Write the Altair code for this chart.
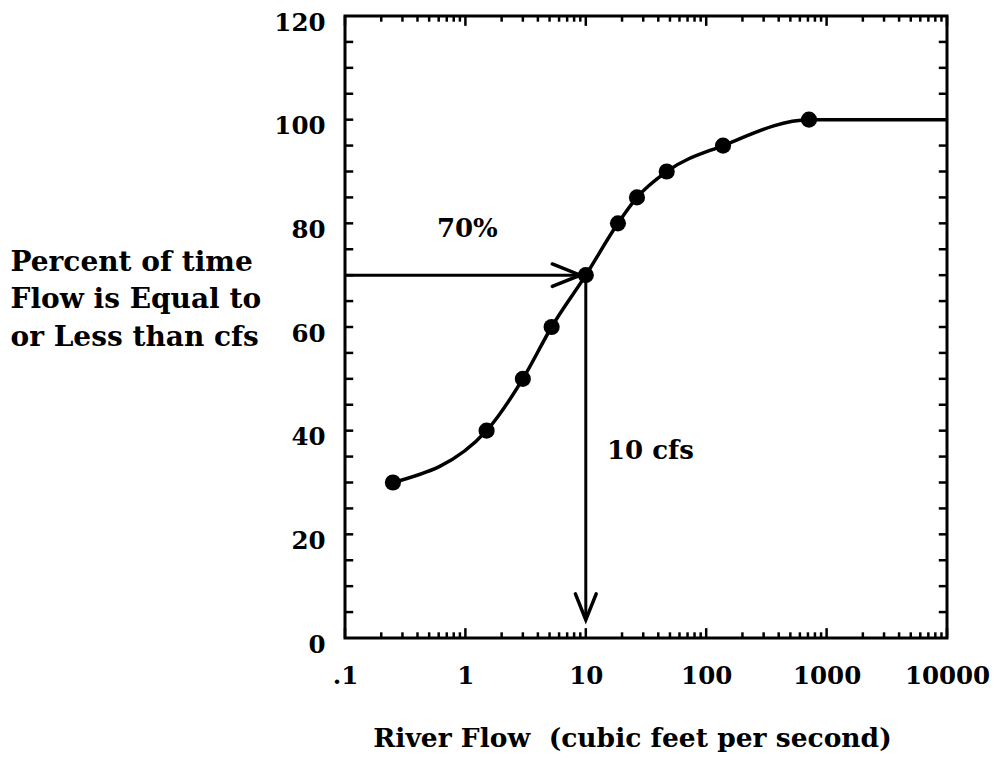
import altair as alt
import pandas as pd

# ---- data ----
flow = [0.25, 1.5, 3.0, 5.2, 10, 18.5, 26.6, 47, 138, 714]
pct = [30, 40, 50, 60, 70, 80, 85, 90, 95, 100]
curve_end_flow = 10000
curve_end_pct = 100

x_ticks = [0.1, 1, 10, 100, 1000, 10000]
x_tick_labels = [".1", "1", "10", "100", "1000", "10000"]
y_ticks = [0, 20, 40, 60, 80, 100, 120]
y_minor = list(range(5, 120, 5))
minor_mult = [2, 3, 4, 5, 6, 7, 8, 9]

arrow_h = {"x": 0.1, "x2": 10, "y": 70}
arrow_v = {"x": 10, "y": 70, "y2": 3.5}
head_h_tip = {"x": 9.0, "y": 70}
head_v_tip = {"x": 10, "y": 3.5}

ann_70 = {"x": 0.58, "y": 79, "text": "70%"}
ann_10 = {"x": 15, "y": 36, "text": "10 cfs"}

XMIN, XMAX, YMIN, YMAX = 0.1, 10000, 0, 120

xs = alt.Scale(type="log", domain=[XMIN, XMAX], nice=False)
ys = alt.Scale(domain=[YMIN, YMAX], nice=False, zero=False)

label_expr = " : ".join(
    f"datum.value == {v} ? '{l}'" for v, l in zip(x_ticks, x_tick_labels)
) + " : ''"

serif = "DejaVu Serif"

x_axis = alt.Axis(
    values=x_ticks, labelExpr=label_expr, ticks=False, tickSize=0, domain=False,
    grid=False, labelFont=serif, labelFontSize=24.5, labelFontWeight="bold",
    labelColor="black", labelPadding=38, labelBaseline="middle",
    labelOverlap=False, labelBound=False, labelFlush=False,
    title="River Flow \u00a0(cubic feet per second)",
    titleFont=serif, titleFontSize=26.5, titleFontWeight="bold", titleColor="black",
    titleX=287, titleY=108, titleAlign="center", titleBaseline="alphabetic",
)
y_axis = alt.Axis(
    values=y_ticks, ticks=False, tickSize=0, domain=False, grid=False,
    labelFont=serif, labelFontSize=24.5, labelFontWeight="bold", labelColor="black",
    labelPadding=20, labelOffset=7, labelOverlap=False, labelBound=False,
    labelFlush=False,
    title=["Percent of time", "Flow is Equal to", "or Less than cfs"],
    titleAngle=0, titleAlign="left", titleBaseline="alphabetic",
    titleX=-335, titleY=254, titleLineHeight=37.5,
    titleFont=serif, titleFontSize=28, titleFontWeight="bold", titleColor="black",
)


def X(f="x:Q"):
    return alt.X(f, scale=xs, axis=x_axis)


def Y(f="y:Q"):
    return alt.Y(f, scale=ys, axis=y_axis)


# curve & points
curve_df = pd.DataFrame({"x": flow + [curve_end_flow], "y": pct + [curve_end_pct]})
pts_df = pd.DataFrame({"x": flow, "y": pct})

curve = alt.Chart(curve_df).mark_line(
    color="black", strokeWidth=3.5, interpolate="monotone"
).encode(x=X(), y=Y())

points = alt.Chart(pts_df).mark_circle(size=260, color="black", opacity=1).encode(
    x=X(), y=Y()
)

# inward tick marks on all four sides
tick_rows = []
maj_len_y, min_len_y = 1.9, 1.1
for k in range(-1, 4):
    for m in minor_mult:
        v = m * 10 ** k
        tick_rows.append({"x": v, "x2": v, "y": YMIN, "y2": YMIN + min_len_y})
        tick_rows.append({"x": v, "x2": v, "y": YMAX, "y2": YMAX - min_len_y})
for v in x_ticks:
    tick_rows.append({"x": v, "x2": v, "y": YMIN, "y2": YMIN + maj_len_y})
    tick_rows.append({"x": v, "x2": v, "y": YMAX, "y2": YMAX - maj_len_y})
fac = 1.17
for v in y_minor:
    tick_rows.append({"x": XMIN, "x2": XMIN * fac, "y": v, "y2": v})
    tick_rows.append({"x": XMAX, "x2": XMAX / fac, "y": v, "y2": v})
ticks_df = pd.DataFrame(tick_rows)

ticks = alt.Chart(ticks_df).mark_rule(color="black", strokeWidth=2.5).encode(
    x=X(), x2="x2:Q", y=Y(), y2="y2:Q",
)

# arrows
arr_df = pd.DataFrame([
    {"x": arrow_h["x"], "x2": arrow_h["x2"], "y": arrow_h["y"], "y2": arrow_h["y"]},
    {"x": arrow_v["x"], "x2": arrow_v["x"], "y": arrow_v["y"], "y2": arrow_v["y2"]},
])
arrows = alt.Chart(arr_df).mark_rule(color="black", strokeWidth=3).encode(
    x=X(), x2="x2:Q", y=Y(), y2="y2:Q",
)

head_h = alt.Chart(pd.DataFrame([head_h_tip])).mark_point(
    shape="M-1,-0.4L0,0L-1,0.4", size=3136, filled=False, stroke="black",
    strokeWidth=3.5, opacity=1, strokeCap="round", strokeJoin="miter",
).encode(x=X(), y=Y())

head_v = alt.Chart(pd.DataFrame([head_v_tip])).mark_point(
    shape="M-0.4,-1L0,0L0.4,-1", size=2704, filled=False, stroke="black",
    strokeWidth=3.5, opacity=1, strokeCap="round", strokeJoin="miter",
).encode(x=X(), y=Y())

t70 = alt.Chart(pd.DataFrame([ann_70])).mark_text(
    font=serif, fontSize=26, fontWeight=600, align="left", baseline="middle",
    color="black",
).encode(x=X(), y=Y(), text="text:N")

t10 = alt.Chart(pd.DataFrame([ann_10])).mark_text(
    font=serif, fontSize=26, fontWeight="bold", align="left", baseline="middle",
    color="black",
).encode(x=X(), y=Y(), text="text:N")

chart = alt.layer(curve, ticks, arrows, head_h, head_v, points, t70, t10).properties(
    width=602, height=622,
    padding={"left": 337, "top": 8, "right": 45, "bottom": 118},
    autosize=alt.AutoSizeParams(type="none"),
    background="white",
).configure_view(stroke="black", strokeWidth=3)

chart.save("out.html", embed_options={"renderer": "svg", "actions": False})
